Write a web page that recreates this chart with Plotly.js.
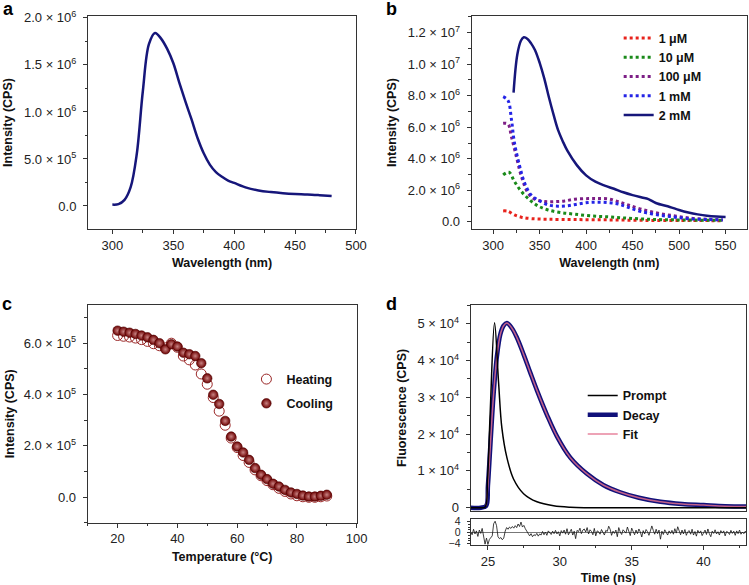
<!DOCTYPE html>
<html>
<head>
<meta charset="utf-8">
<script src="https://cdn.plot.ly/plotly-3.0.1.min.js"></script>
<style>html,body{margin:0;padding:0;background:#fff;}#chart{width:749px;height:585px;}</style>
</head>
<body>
<div id="chart"></div>
<script>
// ---------- Panel a: emission spectrum ----------
const aWavelength = [300,305,310,315,320,325,330,335,340,345,350,355,360,365,370,375,380,385,390,395,400,410,420,430,440,450,460,470,480];
const aIntensity  = [1.5e4,2.0e4,6.5e4,2.0e5,5.5e5,1.22e6,1.72e6,1.84e6,1.78e6,1.67e6,1.52e6,1.31e6,1.11e6,9.2e5,7.2e5,5.6e5,4.4e5,3.6e5,3.1e5,2.7e5,2.45e5,1.95e5,1.65e5,1.48e5,1.36e5,1.28e5,1.23e5,1.15e5,1.06e5];
const aYTickVals = [0,5e5,1e6,1.5e6,2e6];
const aYTickText = ["0.0","5.0 × 10<sup>5</sup>","1.0 × 10<sup>6</sup>","1.5 × 10<sup>6</sup>","2.0 × 10<sup>6</sup>"];

// ---------- Panel b: concentration series ----------
const bNames = ["1 μM","10 μM","100 μM","1 mM","2 mM"];
const b1uM_x   = [310.8,316,323,330.5,341,359,388,424,459.6,500,547];
const b1uM_y   = [7.0e5,6.8e5,4.4e5,3.0e5,2.1e5,1.7e5,1.5e5,1.3e5,1.0e5,9e4,8e4];
const b10uM_x  = [310.8,317,323,330.5,339.5,348.4,359,373.5,388,405.7,424,441.5,459.6,477.5,495.5,547];
const b10uM_y  = [2.98e6,3.15e6,2.56e6,1.92e6,1.39e6,1.01e6,7.6e5,5.9e5,4.9e5,3.8e5,3.2e5,2.5e5,1.9e5,1.5e5,1.3e5,1.0e5];
const b100uM_x = [310.8,316,319.7,325,330.5,337.7,344.8,355.6,366.3,377,388,402.3,413,424,434.5,445,459.6,477.5,495.5,513.4,531,547];
const b100uM_y = [6.25e6,6.2e6,5.4e6,4.14e6,2.87e6,1.82e6,1.44e6,1.29e6,1.29e6,1.33e6,1.44e6,1.48e6,1.48e6,1.46e6,1.29e6,1.08e6,8.0e5,5.5e5,3.8e5,2.3e5,1.7e5,1.3e5];
const b1mM_x   = [310.8,316,319.7,323,328.7,334,341,348.4,359,370,380.7,391.5,402.3,413,424,434.5,445,459.6,477.5,495.5,513.4,531,547];
const b1mM_y   = [7.94e6,7.7e6,6.5e6,5.0e6,3.5e6,2.45e6,1.7e6,1.39e6,1.08e6,1.0e6,1.03e6,1.14e6,1.23e6,1.25e6,1.22e6,1.14e6,9.3e5,6.5e5,4.4e5,3.0e5,1.9e5,1.5e5,1.3e5];
const b2mM_x   = [322,326,330,333,337,341,345,350,355,360,365,370,375,380,390,400,410,420,430,440,450,460,467,475,490,500,510,520,530,540,550];
const b2mM_y   = [8.2e6,1.06e7,1.15e7,1.17e7,1.16e7,1.13e7,1.09e7,1.01e7,9.1e6,7.9e6,6.8e6,5.8e6,5.1e6,4.5e6,3.6e6,2.95e6,2.55e6,2.3e6,2.1e6,1.88e6,1.7e6,1.55e6,1.45e6,1.2e6,9.5e5,7.6e5,6.0e5,4.8e5,3.9e5,3.4e5,3.2e5];
const bYTickVals = [0,2e6,4e6,6e6,8e6,1e7,1.2e7];
const bYTickText = ["0.0","2.0 × 10<sup>6</sup>","4.0 × 10<sup>6</sup>","6.0 × 10<sup>6</sup>","8.0 × 10<sup>6</sup>","1.0 × 10<sup>7</sup>","1.2 × 10<sup>7</sup>"];

// ---------- Panel c: temperature cycle ----------
const cTemp    = [20,22,24,26,28,30,32,34,36,38,40,42,44,46,48,50,52,54,56,58,60,62,64,66,68,70,72,74,76,78,80,82,84,86,88,90];
const cHeating = [6.30e5,6.27e5,6.24e5,6.20e5,6.14e5,6.07e5,5.98e5,5.90e5,5.82e5,6.00e5,5.84e5,5.50e5,5.35e5,5.15e5,4.80e5,4.40e5,3.88e5,3.35e5,2.80e5,2.30e5,1.93e5,1.62e5,1.35e5,1.06e5,8.3e4,6.4e4,4.8e4,3.4e4,2.2e4,1.2e4,5e3,1e3,-1e3,-1e3,1e3,4e3];
const cCooling = [6.49e5,6.45e5,6.41e5,6.36e5,6.30e5,6.23e5,6.13e5,6.00e5,5.76e5,5.96e5,5.87e5,5.63e5,5.57e5,5.50e5,5.22e5,4.63e5,3.99e5,3.63e5,2.97e5,2.36e5,1.97e5,1.74e5,1.45e5,1.13e5,8.7e4,7.0e4,5.2e4,4.1e4,2.8e4,1.8e4,1.2e4,6e3,2e3,2e3,5e3,9e3];
const cYTickVals = [0,2e5,4e5,6e5];
const cYTickText = ["0.0","2.0 × 10<sup>5</sup>","4.0 × 10<sup>5</sup>","6.0 × 10<sup>5</sup>"];

// ---------- Panel d: lifetime decay ----------
const dPromptT = [23.8,24.5,24.81,24.97,25.16,25.46,25.74,25.97,26.32,26.78,27.48,28.41,29.57,30.73,32.0,36.0,43.0];
const dPromptY = [0,0,200,7400,26100,50300,34100,21700,13600,7800,3800,1600,500,100,0,0,0];
const dDecayT  = [23.8,24.5,24.88,25.0,25.16,25.39,25.63,25.86,26.09,26.32,26.67,27.02,27.48,27.94,28.41,29.11,29.8,30.73,31.89,33.05,34.2,35.5,37.0,38.5,40.0,41.5,43.0];
const dDecayY  = [0,0,500,6000,16300,30600,41300,47100,49500,50200,48800,46200,41700,36800,31900,25200,19400,13600,9200,6100,4200,2700,1600,1000,700,400,300];
const dFitT    = [24.88,25.0,25.16,25.39,25.63,25.86,26.09,26.32,26.67,27.02,27.48,27.94,28.41,29.11,29.8,30.73,31.89,33.05,34.2,35.5,37.0,38.5,40.0,41.5,43.0];
const dFitY    = [500,6000,16300,30600,41300,47100,49500,50200,48800,46200,41700,36800,31900,25200,19400,13600,9200,6100,4200,2700,1600,1000,700,400,300];
const dResidualStart = 23.8, dResidualStep = 0.1;
const dResidual = [0.3,-0.8,1.2,-0.5,0.6,-1.4,0.9,-0.3,1.5,-1.0,
  -4.2,-2.0,-4.3,-2.5,-1.8,-1.2,3.2,4.1,2.5,-1.5,
  -2.2,-1.8,-2.6,-2.0,0.5,1.8,1.2,2.0,1.5,2.2,
  1.6,2.5,1.8,3.1,2.2,3.8,2.0,2.6,1.4,0.5,
  -0.6,-1.2,-0.4,-1.5,-0.8,-1.1,-0.3,-1.3,-0.5,-0.9,
  0.4,-0.8,0.2,-1.0,0.6,-0.3,-0.7,0.5,-0.4,0.8,
  -0.5,0.3,-1.2,0.7,-0.2,0.9,-0.6,1.4,-0.8,0.2,
  1.2,-0.9,0.5,-2.2,0.8,0.3,1.6,-0.4,0.9,1.3,
  0.2,1.8,-0.5,1.0,0.4,-0.8,1.5,-1.2,0.6,0.3,
  -0.6,1.1,0.2,-0.9,0.8,0.4,2.3,1.2,-1.0,0.5,
  -0.3,0.9,-1.5,1.8,0.2,-0.7,1.0,0.4,-0.2,2.0,
  0.5,-1.1,1.6,0.1,-0.8,0.9,-0.4,1.3,0.2,-1.6,
  0.7,-0.5,1.1,0.3,-1.0,0.6,2.4,0.8,-0.6,1.2,
  -0.4,0.9,-2.4,0.5,-0.7,1.0,0.2,-0.9,0.6,-0.3,
  0.8,-0.6,1.4,-0.2,2.1,0.4,-0.8,0.9,-0.5,1.1,
  -1.0,0.3,0.7,-0.6,1.2,-0.9,0.4,-1.3,0.8,-0.2,
  0.6,-1.1,0.2,0.9,-0.7,1.3,-0.4,-1.5,0.5,-0.3,
  1.0,-0.5,0.3,-0.9,0.7,-0.2,0.6,-1.2,0.4,0.1,
  -0.7,0.8,-0.3,0.5,-1.0,0.6,-0.4,0.9,-0.6,0.2,
  -0.4,0.5,-0.2];
const dYTickVals = [0,1e4,2e4,3e4,4e4,5e4];
const dYTickText = ["0","1 × 10<sup>4</sup>","2 × 10<sup>4</sup>","3 × 10<sup>4</sup>","4 × 10<sup>4</sup>","5 × 10<sup>4</sup>"];
const dResTickVals = [-4,0,4];
const dResTickText = ["−4","0","4"];

// ---------- styling ----------
const FONT = "Liberation Sans, Arial, Helvetica, sans-serif";
const AX = "#333";
const NAVY = "#16167a";

function xax(domain, range, dtick, minorD, title, anchor, extra){
  return Object.assign({
    domain: domain, range: range, anchor: anchor, tickmode: "linear", dtick: dtick,
    showline: true, mirror: true, linecolor: AX, linewidth: 1, ticks: "outside", ticklen: 4, tickcolor: AX,
    minor: {ticks: "outside", ticklen: 2.5, dtick: minorD, tickcolor: AX},
    showgrid: false, zeroline: false, tickfont: {family: FONT, size: 13, color: "#222"},
    title: {text: title, font: {family: FONT, size: 12.5, color: "#111", weight: "bold"}, standoff: 6}
  }, extra || {});
}
function yax(domain, range, vals, text, minorD, title, anchor, standoff, extra){
  return Object.assign({
    domain: domain, range: range, anchor: anchor, tickmode: "array", tickvals: vals, ticktext: text,
    showline: true, mirror: true, linecolor: AX, linewidth: 1, ticks: "outside", ticklen: 4, tickcolor: AX,
    minor: {ticks: "outside", ticklen: 2.5, dtick: minorD, tickcolor: AX},
    showgrid: false, zeroline: false, ticklabelstandoff: 4, tickfont: {family: FONT, size: 13, color: "#222"},
    title: {text: title, font: {family: FONT, size: 12.5, color: "#111", weight: "bold"}, standoff: standoff}
  }, extra || {});
}

const traces = [
  {x: aWavelength, y: aIntensity, xaxis: "x", yaxis: "y", mode: "lines", line: {color: NAVY, width: 2.5, shape: "spline"}, showlegend: false},

  {x: b1uM_x, y: b1uM_y, name: bNames[0], xaxis: "x2", yaxis: "y2", mode: "lines", line: {color: "#e8231c", width: 3, dash: "dot", shape: "spline"}, legend: "legend"},
  {x: b10uM_x, y: b10uM_y, name: bNames[1], xaxis: "x2", yaxis: "y2", mode: "lines", line: {color: "#1a8a1a", width: 3, dash: "dot", shape: "spline"}, legend: "legend"},
  {x: b100uM_x, y: b100uM_y, name: bNames[2], xaxis: "x2", yaxis: "y2", mode: "lines", line: {color: "#7d1f86", width: 3, dash: "dot", shape: "spline"}, legend: "legend"},
  {x: b1mM_x, y: b1mM_y, name: bNames[3], xaxis: "x2", yaxis: "y2", mode: "lines", line: {color: "#2424e6", width: 3, dash: "dot", shape: "spline"}, legend: "legend"},
  {x: b2mM_x, y: b2mM_y, name: bNames[4], xaxis: "x2", yaxis: "y2", mode: "lines", line: {color: NAVY, width: 2.5, shape: "spline"}, legend: "legend"},

  {x: cTemp, y: cHeating, name: "Heating", legendgroup: "h", xaxis: "x3", yaxis: "y3", mode: "markers", marker: {symbol: "circle-open", size: 10, color: "#9a2626", line: {width: 1}}, legend: "legend2"},
  {x: cTemp, y: cCooling, name: "Cooling", legendgroup: "c", xaxis: "x3", yaxis: "y3", mode: "markers", marker: {symbol: "circle", size: 9.5, color: "#6c0000", gradient: {type: "radial", color: "#c88282"}, line: {width: 0.6, color: "#4e0000"}}, legend: "legend2"},

  {x: dDecayT, y: dDecayY, name: "Decay", xaxis: "x4", yaxis: "y4", mode: "lines", line: {color: "#10107a", width: 4.5, shape: "spline"}, legend: "legend3", legendrank: 2},
  {x: dFitT, y: dFitY, name: "Fit", xaxis: "x4", yaxis: "y4", mode: "lines", line: {color: "rgba(226,110,140,0.85)", width: 1.5, shape: "spline"}, legend: "legend3", legendrank: 3},
  {x: dPromptT, y: dPromptY, name: "Prompt", xaxis: "x4", yaxis: "y4", mode: "lines", line: {color: "#000", width: 1.5, shape: "spline"}, legend: "legend3", legendrank: 1},
  {x0: dResidualStart, dx: dResidualStep, y: dResidual, xaxis: "x5", yaxis: "y5", mode: "lines", line: {color: "#111", width: 0.8}, showlegend: false}
];

const legFont = {family: FONT, size: 12.5, color: "#111", weight: "bold"};
const letterFont = {family: FONT, size: 18, color: "#000", weight: "bold"};
const layout = {
  width: 749, height: 585, margin: {l: 0, r: 0, t: 0, b: 0},
  paper_bgcolor: "#fff", plot_bgcolor: "#fff", font: {family: FONT},
  xaxis: xax([0.1175, 0.4753], [280, 500], 50, 25, "Wavelength (nm)", "y"),
  yaxis: yax([0.6085, 0.9726], [-2.45e5, 2.02e6], aYTickVals, aYTickText, 2.5e5, "Intensity (CPS)", "x", 8),
  xaxis2: xax([0.6298, 0.9973], [277, 573], 50, 25, "Wavelength (nm)", "y2"),
  yaxis2: yax([0.6085, 0.9726], [-4.5e5, 1.305e7], bYTickVals, bYTickText, 1e6, "Intensity (CPS)", "x2", 8),
  xaxis3: xax([0.1171, 0.4762], [10, 100], 20, 10, "Temperature (°C)", "y3"),
  yaxis3: yax([0.1065, 0.4791], [-1e5, 7.5e5], cYTickVals, cYTickText, 1e5, "Intensity (CPS)", "x3", 6),
  xaxis4: xax([0.6284, 0.996], [23.8, 42.95], 5, 2.5, "", "y4", {showticklabels: false, matches: "x5", ticks: "", minor: {ticks: ""}}),
  yaxis4: yax([0.1265, 0.4791], [-900, 5.52e4], dYTickVals, dYTickText, 5e3, "Fluorescence (CPS)", "x4", 8),
  xaxis5: xax([0.6284, 0.996], [23.8, 42.95], 5, 2.5, "Time (ns)", "y5", {tick0: 25}),
  yaxis5: yax([0.0684, 0.1123], [-4.5, 4.8], dResTickVals, dResTickText, 1, "", "x5", 0, {zeroline: true, zerolinecolor: "#777", zerolinewidth: 1, ticklen: 3, tickfont: {family: FONT, size: 10.5, color: "#222"}, minor: {ticks: "outside", ticklen: 2, dtick: 1, tickcolor: AX}}),
  legend: {x: 0.826, y: 0.96, xanchor: "left", yanchor: "top", bgcolor: "rgba(0,0,0,0)", font: legFont, itemwidth: 30, tracegroupgap: 0},
  legend2: {x: 0.329, y: 0.377, xanchor: "left", yanchor: "top", bgcolor: "rgba(0,0,0,0)", font: legFont, itemwidth: 30, tracegroupgap: 5},
  legend3: {x: 0.778, y: 0.349, xanchor: "left", yanchor: "top", bgcolor: "rgba(0,0,0,0)", font: legFont, itemwidth: 30, traceorder: "normal"},
  annotations: [
    {text: "a", x: 1/749, y: 1 + 3/585, xref: "paper", yref: "paper", xanchor: "left", yanchor: "top", showarrow: false, font: letterFont},
    {text: "b", x: 384/749, y: 1 + 3/585, xref: "paper", yref: "paper", xanchor: "left", yanchor: "top", showarrow: false, font: letterFont},
    {text: "c", x: 0/749, y: 1 - 292/585, xref: "paper", yref: "paper", xanchor: "left", yanchor: "top", showarrow: false, font: letterFont},
    {text: "d", x: 384/749, y: 1 - 292/585, xref: "paper", yref: "paper", xanchor: "left", yanchor: "top", showarrow: false, font: letterFont}
  ]
};

Plotly.newPlot("chart", traces, layout, {displayModeBar: false, staticPlot: true});
</script>
</body>
</html>
